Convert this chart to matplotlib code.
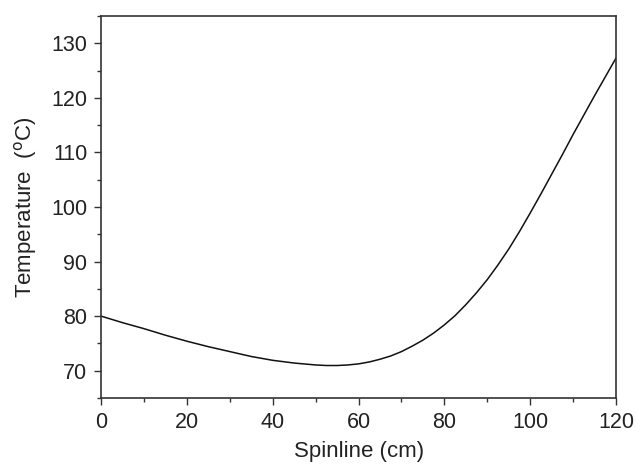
import matplotlib.pyplot as plt
import numpy as np

# temperature along the spinline
spinline = [0, 5, 10, 15, 20, 25, 30, 35, 40, 45, 50, 52.5, 55, 57.5, 60, 62.5,
            65, 67.5, 70, 72.5, 75, 77.5, 80, 82.5, 85, 87.5, 90, 92.5,
            95, 97.5, 100, 102.5, 105, 107.5, 110, 115, 120]
temperature = [80.0, 78.8, 77.7, 76.5, 75.4, 74.4, 73.5, 72.6, 71.9, 71.4, 71.05, 70.95, 70.95, 71.05, 71.25, 71.6,
               72.1, 72.7, 73.5, 74.5, 75.6, 76.9, 78.4, 80.1, 82.1, 84.3, 86.7, 89.4,
               92.3, 95.5, 98.9, 102.4, 106.0, 109.6, 113.3, 120.4, 127.3]

plt.rcParams['font.family'] = ['Liberation Sans', 'DejaVu Sans']

fig, ax = plt.subplots(figsize=(6.36, 4.67), dpi=100)
fig.subplots_adjust(left=0.159, right=0.9686, top=0.9657, bottom=0.1478)

ax.plot(spinline, temperature, color='#111111', lw=1.1)

ax.set_xlim(0, 120)
ax.set_ylim(65, 135)
ax.set_xticks(np.arange(0, 121, 20))
ax.set_xticks(np.arange(10, 120, 20), minor=True)
ax.set_yticks(np.arange(70, 131, 10))
ax.set_yticks(np.arange(65, 136, 10), minor=True)

for s in ax.spines.values():
    s.set_color('#333333')
    s.set_linewidth(1.2)
ax.tick_params(which='major', direction='out', length=5, width=1.0, color='#333333',
               labelsize=15.5, labelcolor='#222222', pad=5)
ax.tick_params(which='minor', direction='out', length=3, width=1.0, color='#333333')

ax.set_xlabel("Spinline (cm)", fontsize=16, color='#222222', labelpad=6)
ax.set_ylabel(r"Temperature  ($^{\rm o}$C)", fontsize=16, color='#222222', labelpad=9)

plt.savefig("out.png", dpi=100)
